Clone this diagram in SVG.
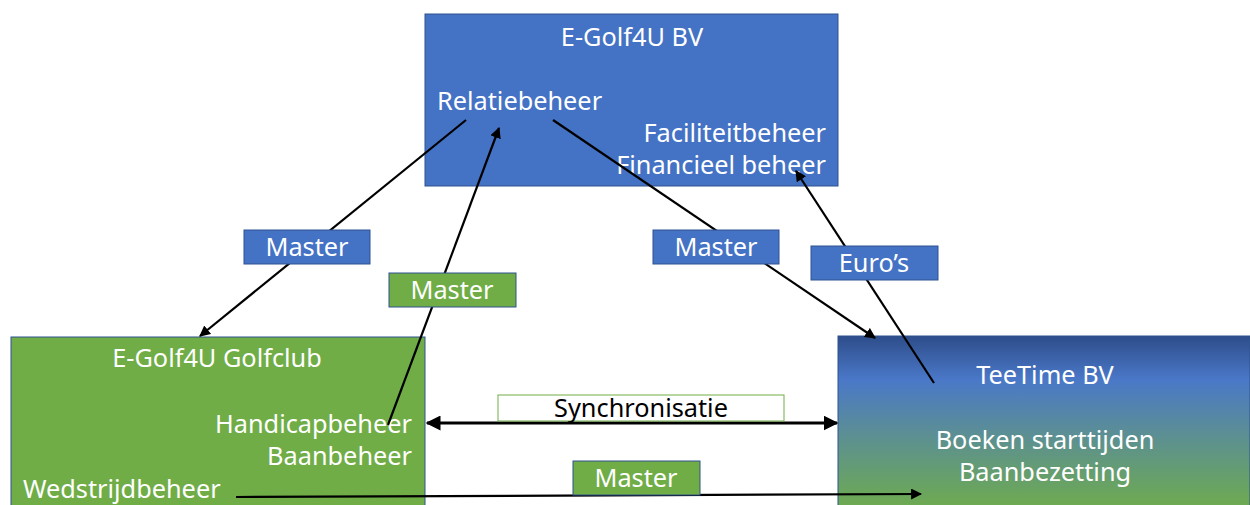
<svg xmlns="http://www.w3.org/2000/svg" width="1250" height="505" viewBox="0 0 1250 505">
<defs>
<linearGradient id="tee" x1="0" y1="0" x2="0" y2="1">
<stop offset="0" stop-color="#2E4D8A"/>
<stop offset="0.25" stop-color="#4A78C8"/>
<stop offset="0.55" stop-color="#5B8E96"/>
<stop offset="1" stop-color="#6FAC4C"/>
</linearGradient>
<marker id="ah" viewBox="0 0 10 10" refX="9" refY="5" markerWidth="5" markerHeight="5" orient="auto-start-reverse" markerUnits="strokeWidth">
<path d="M0,0 L10,5 L0,10 Z" fill="#000"/>
</marker>
</defs>
<style>
.t{font-family:"Noto Sans","Open Sans",sans-serif;font-size:25.3px;fill:#fff}
.blue{fill:#4472C4;stroke:#2F528F;stroke-width:1}
.green{fill:#70AD47;stroke:#2F528F;stroke-width:1}
.c{stroke:#000;stroke-width:2.2;fill:none}
.m{text-anchor:middle}
.e{text-anchor:end}
</style>
<rect width="1250" height="505" fill="#fff"/>
<g id="egolf-bv">
<rect class="blue" x="425" y="14" width="413" height="172"/>
<text class="t m" x="632" y="46">E-Golf4U BV</text>
<text class="t" x="437" y="110">Relatiebeheer</text>
<text class="t e" x="826" y="142">Faciliteitbeheer</text>
<text class="t e" x="826" y="174">Financieel beheer</text>
</g>
<g id="golfclub">
<rect class="green" x="11" y="337" width="414" height="175"/>
<text class="t m" x="217" y="367">E-Golf4U Golfclub</text>
<text class="t e" x="412" y="433">Handicapbeheer</text>
<text class="t e" x="412" y="465">Baanbeheer</text>
<text class="t" x="23" y="498">Wedstrijdbeheer</text>
</g>
<g id="teetime">
<rect x="838" y="336" width="412" height="175" fill="url(#tee)" stroke="#2F528F" stroke-width="1"/>
<text class="t m" x="1045" y="384">TeeTime BV</text>
<text class="t m" x="1045" y="449">Boeken starttijden</text>
<text class="t m" x="1045" y="481">Baanbezetting</text>
</g>
<g id="connectors">
<line class="c" x1="466" y1="120" x2="200" y2="336" marker-end="url(#ah)"/>
<line class="c" x1="388" y1="425" x2="499" y2="128" marker-end="url(#ah)"/>
<line class="c" x1="553" y1="120" x2="875" y2="338" marker-end="url(#ah)"/>
<line class="c" x1="934" y1="383" x2="796" y2="171" marker-end="url(#ah)"/>
<line class="c" x1="427" y1="423" x2="837" y2="423" style="stroke-width:3" marker-start="url(#ah)" marker-end="url(#ah)"/>
<line class="c" x1="236" y1="497" x2="921" y2="494" marker-end="url(#ah)"/>
</g>
<g id="label-master-1">
<rect class="blue" x="244" y="230" width="126" height="34"/>
<text class="t m" x="307" y="256">Master</text>
</g>
<g id="label-master-2">
<rect class="green" x="389" y="273" width="127" height="34"/>
<text class="t m" x="452" y="299">Master</text>
</g>
<g id="label-master-3">
<rect class="blue" x="653" y="230" width="126" height="34"/>
<text class="t m" x="716" y="256">Master</text>
</g>
<g id="label-euros">
<rect class="blue" x="811" y="246" width="127" height="34"/>
<text class="t m" x="874" y="272">Euro’s</text>
</g>
<g id="label-sync">
<rect x="498" y="395" width="286" height="26" fill="#fff" stroke="#70AD47" stroke-width="1"/>
<text class="t m" x="641" y="417" style="fill:#000">Synchronisatie</text>
</g>
<g id="label-master-4">
<rect class="green" x="573" y="461" width="127" height="34"/>
<text class="t m" x="636" y="487">Master</text>
</g>
</svg>
